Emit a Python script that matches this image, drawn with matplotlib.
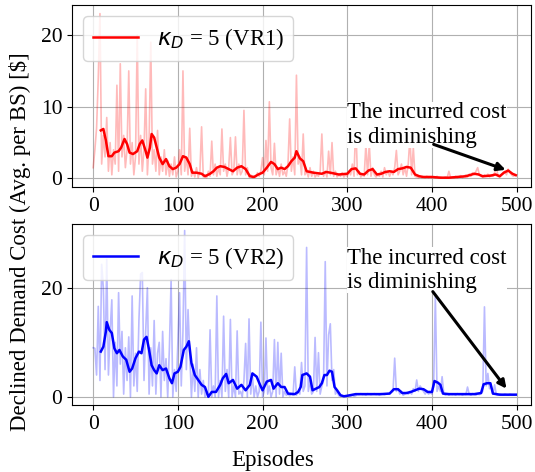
import numpy as np
import matplotlib
matplotlib.use("Agg")
import matplotlib.pyplot as plt

plt.rcParams['font.family'] = ['Liberation Serif', 'DejaVu Serif']
plt.rcParams['mathtext.fontset'] = 'dejavusans'

# raw cost, one value every 2 episodes (0, 2, ..., 498)
ep_raw = np.arange(0, 500, 2)

vr1_raw = [
    1.5, 4, 7, 14, 23, 2, 6, 3, 8.5, 1, 5, 0.5, 4, 2, 13, 1, 16, 3, 6, 1.5, 4, 15, 2, 5, 0.5,
    3, 20, 2, 6, 1, 4, 12.5, 0.5, 5, 19, 2, 4, 1, 6.7, 0.5, 3, 1, 4, 0.5, 2.5, 0.3, 2, 0.5, 3, 0.2,
    1, 4, 0.5, 15, 1, 3, 0.5, 7, 0.3, 1, 0.2, 1.5, 0.1, 1, 7.2, 0.2, 0.5, 0.1, 1, 0.3, 5.2, 0.5, 2, 0.3, 1.5,
    0.5, 6.9, 1, 2, 0.3, 1.5, 5.7, 0.5, 1, 5.8, 0.5, 2, 0.5, 1, 9.5, 0.5, 1.5, 0.2, 0.5, 0.1, 0.3, 0.2, 0.8, 0.3, 1,
    2.9, 0.5, 5.3, 1, 10.7, 1.5, 0.5, 4.9, 0.5, 1.5, 0.3, 2, 0.5, 1, 0.3, 2, 8.3, 1, 3, 0.5, 14.4, 2, 3, 0.5, 6.2,
    0.5, 1, 0.2, 1.5, 0.3, 1, 0.2, 0.5, 0.3, 1, 6.2, 0.3, 1, 0.2, 3.8, 0.5, 5, 0.3, 1, 0.2, 0.5, 0.3, 0.8, 0.2, 0.5,
    0.3, 1, 0.5, 2, 0.3, 7.8, 0.5, 1, 0.2, 0.5, 0.3, 4.8, 0.5, 4.8, 0.3, 1.5, 0.5, 0.2, 0.5, 0.3, 1, 0.2, 1.5, 0.5, 1,
    0.3, 1, 0.5, 1.5, 3.9, 0.5, 1, 2, 0.5, 1.5, 0.3, 2, 5.7, 0.5, 4.3, 0.3, 0.2, 0.1, 0.3, 0.1, 0.2, 0.1, 0.3, 0.1, 0.2,
    0.1, 0.2, 0.1, 0.3, 0.1, 0.2, 0.1, 0.1, 0.2, 0.1, 1.0, 0.1, 0.2, 0.1, 0.3, 0.1, 0.2, 0.4, 0.1, 0.3, 0.5, 0.2, 0.6, 0.3, 0.8,
    0.5, 1, 1.5, 0.5, 0.3, 0.2, 0.5, 0.3, 0.6, 0.2, 0.5, 0.3, 0.8, 1.7, 0.3, 0.2, 0.5, 0.8, 1, 0.5, 1.3, 0.8, 0.5, 0.3, 0.4,
]

vr2_raw = [
    9, 8.9, 4, 16.6, 3, 24.3, 20, 5, 25.2, 4, 12, 17.8, 0, 10, 2, 19.1, 6, 12, 0.5, 9, 3, 11, 0, 18.5, 2,
    8, 1, 14, 22.5, 22.8, 3, 12, 20, 0.5, 9, 2, 14, 0.5, 8, 10, 0, 12, 3, 7, 0, 9, 21.5, 0, 5, 1,
    10, 19.1, 2, 12, 30.5, 5, 16, 8, 0, 6, 1, 9, 0, 5, 0.5, 3, 0, 1, 0, 12.3, 0, 2, 0, 18.5, 0,
    3, 0, 14.8, 1, 5, 0, 14.2, 0, 2, 0, 12.1, 0.5, 1, 0, 3, 9.8, 0, 14.3, 0.5, 4, 0, 2, 0, 1, 13.7,
    0, 1, 10.8, 0.5, 2, 0, 1, 10.5, 0, 10, 0.5, 8, 0, 1, 0.3, 0.5, 0.2, 0.5, 0.3, 5.5, 0.3, 1, 0.5, 6.3, 1,
    2, 27.4, 1, 3, 0.5, 1, 10.9, 1, 8.1, 0.5, 2, 3, 24.8, 2, 11.4, 13.4, 3, 5, 0.5, 1, 0.2, 0.1, 0.2, 0.1, 0.1,
    0.1, 0.2, 0.1, 0.3, 0.1, 0.2, 0.5, 0.4, 0.6, 0.4, 0.5, 0.3, 0.6, 0.5, 0.4, 0.5, 0.6, 0.4, 0.5, 0.3, 0.6, 0.5, 0.4, 0.5, 0.6,
    0.5, 0.8, 1, 7.1, 1, 1.5, 0.5, 1, 0.3, 0.5, 0.8, 0.5, 1, 0.5, 1.5, 1, 3.1, 1, 2, 1.5, 1, 0.5, 1, 0.5, 0.8,
    0.5, 2, 18.5, 1, 2, 1, 3.7, 0.5, 0.3, 0.5, 0.3, 0.5, 0.4, 0.5, 0.3, 0.6, 0.4, 0.5, 0.3, 0.5, 0.4, 1.8, 0.5, 0.3, 0.6,
    0.5, 0.3, 0.5, 0.4, 0.6, 1, 16.5, 2, 4.3, 1.5, 2, 0.5, 2.2, 0.4, 0.3, 0.5, 0.4, 0.3, 0.5, 0.4, 0.3, 0.5, 0.4, 0.3, 0.4,
]

# smoothed (moving average) curves
vr1_ep = [9, 12, 15, 18, 22, 25, 30, 33, 37, 40, 43, 47, 52, 55, 58, 62, 64, 67, 69, 72, 75, 78, 82, 86,
          90, 94, 98, 102, 106, 110, 114, 117, 122, 128, 132, 138, 142, 146, 150, 155, 160, 165, 170,
          175, 180, 185, 190, 195, 200, 205, 210, 214, 218, 222, 226, 230, 234, 238, 240, 244, 248,
          252, 260, 270, 275, 280, 290, 300, 305, 310, 315, 320, 325, 330, 335, 340, 345, 350, 355,
          360, 365, 370, 375, 380, 385, 390, 400, 410, 420, 430, 440, 450, 455, 460, 470, 475, 480,
          485, 490, 495, 499]
vr1_smooth = [6.7, 6.9, 5.3, 3.1, 3.1, 3.6, 3.8, 4.3, 5.5, 4.8, 3.6, 3.4, 3.8, 4.8, 5.3, 3.8, 2.9, 4.3,
              6.2, 5.7, 4.3, 2.9, 2.0, 2.7, 1.7, 1.3, 1.5, 2.0, 3.1, 2.9, 2.0, 0.8, 0.8, 0.65, 0.3,
              0.65, 1.0, 1.5, 1.7, 1.6, 1.3, 1.0, 1.5, 1.7, 1.3, 0.3, 0.2, 0.55, 0.8, 1.5, 2.3, 2.0,
              1.3, 1.5, 1.3, 1.7, 2.4, 2.9, 3.8, 2.8, 2.4, 1.0, 0.8, 0.65, 0.9, 0.8, 0.55, 0.65, 1.3,
              1.4, 0.65, 0.55, 1.1, 1.3, 0.55, 0.65, 0.9, 1.0, 0.9, 1.3, 1.4, 1.6, 1.5, 0.55, 0.3,
              0.2, 0.2, 0.1, 0.1, 0.2, 0.3, 0.65, 0.55, 0.3, 0.4, 0.55, 0.3, 0.8, 1.1, 0.65, 0.45]

vr2_ep = [9, 12, 15, 16, 19, 22, 25, 28, 31, 35, 39, 43, 46, 50, 54, 57, 60, 63, 66, 69, 72, 75, 78, 82,
          86, 90, 93, 96, 100, 103, 107, 110, 113, 116, 120, 124, 128, 132, 136, 140, 145, 150, 153,
          157, 160, 165, 170, 175, 180, 185, 188, 193, 197, 200, 205, 210, 213, 218, 222, 226, 230,
          238, 242, 245, 247, 252, 256, 259, 263, 267, 270, 273, 276, 279, 282, 285, 288, 292, 296,
          300, 310, 320, 330, 340, 350, 355, 360, 365, 370, 375, 380, 385, 390, 395, 400, 403, 407,
          410, 413, 420, 440, 450, 458, 461, 465, 469, 472, 480, 499]
vr2_smooth = [8.3, 9.2, 12.0, 13.7, 12.3, 11.7, 8.9, 8.0, 8.6, 7.4, 6.8, 4.6, 5.2, 7.1, 8.3, 8.0, 10.5,
              11.0, 8.6, 5.8, 4.9, 4.3, 5.8, 4.9, 5.2, 3.4, 2.5, 4.3, 4.6, 5.5, 8.6, 9.2, 10.2, 6.2,
              4.0, 3.1, 2.2, 1.8, 0.0, 0.9, 0.9, 2.2, 3.4, 4.2, 2.5, 3.1, 1.5, 2.2, 1.2, 2.2, 4.3, 3.7,
              2.2, 1.2, 2.8, 3.1, 1.5, 2.5, 1.8, 1.8, 0.6, 0.5, 0.9, 1.8, 4.0, 4.3, 3.7, 1.2, 1.5, 1.8,
              2.5, 4.0, 4.0, 4.8, 4.6, 1.8, 1.2, 0.3, 0.1, 0.2, 0.5, 0.5, 0.5, 0.5, 0.6, 1.4, 1.4, 0.7,
              0.7, 0.9, 1.2, 1.5, 1.4, 0.9, 0.9, 2.9, 2.6, 2.2, 0.6, 0.5, 0.5, 0.5, 0.7, 2.3, 2.5, 2.5,
              0.6, 0.4, 0.4]

fig = plt.figure(figsize=(5.35, 4.72), dpi=100)
ax1 = fig.add_axes([0.1346, 0.6038, 0.858, 0.3856])
ax2 = fig.add_axes([0.1346, 0.1419, 0.858, 0.3835])

panels = [
    (ax1, vr1_raw, vr1_ep, vr1_smooth, 'red', r'$\kappa_D$ = 5 (VR1)', (-1.2, 24.2), [0, 10, 20],
     (487, 1.2), (402, 4.75), (300, 5)),
    (ax2, vr2_raw, vr2_ep, vr2_smooth, 'blue', r'$\kappa_D$ = 5 (VR2)', (-1.5, 31.7), [0, 20],
     (488, 1.5), (401, 19.3), (300, 20)),
]

for ax, raw, sep, sm, col, lab, ylim, yt, head, tail, txt in panels:
    ax.plot(ep_raw, raw, color=col, alpha=0.27, lw=1.2)
    ax.plot(sep, sm, color=col, lw=1.8, label=lab)
    ax.set_xlim(-25, 517)
    ax.set_ylim(*ylim)
    ax.set_yticks(yt)
    ax.set_xticks([0, 100, 200, 300, 400, 500])
    ax.tick_params(labelsize=15.5)
    ax.grid(True, color='#b0b0b0', lw=0.8)
    ax.legend(loc='upper left', fontsize=16.5)
    ax.text(txt[0], txt[1], 'The incurred cost\nis diminishing', fontsize=16.4,
            bbox=dict(facecolor='white', edgecolor='none', pad=0.5), zorder=4)
    ax.annotate('', xy=head, xytext=tail, zorder=5,
                arrowprops=dict(arrowstyle='-|>', color='black', lw=2.2, mutation_scale=12,
                                shrinkA=0, shrinkB=0))

fig.text(0.037, 0.488, 'Declined Demand Cost (Avg. per BS) [$]', rotation=90,
         ha='center', va='center', fontsize=16.5)
fig.text(0.51, 0.012, 'Episodes', ha='center', va='baseline', fontsize=16.5)

fig.savefig('out.png', dpi=100)
